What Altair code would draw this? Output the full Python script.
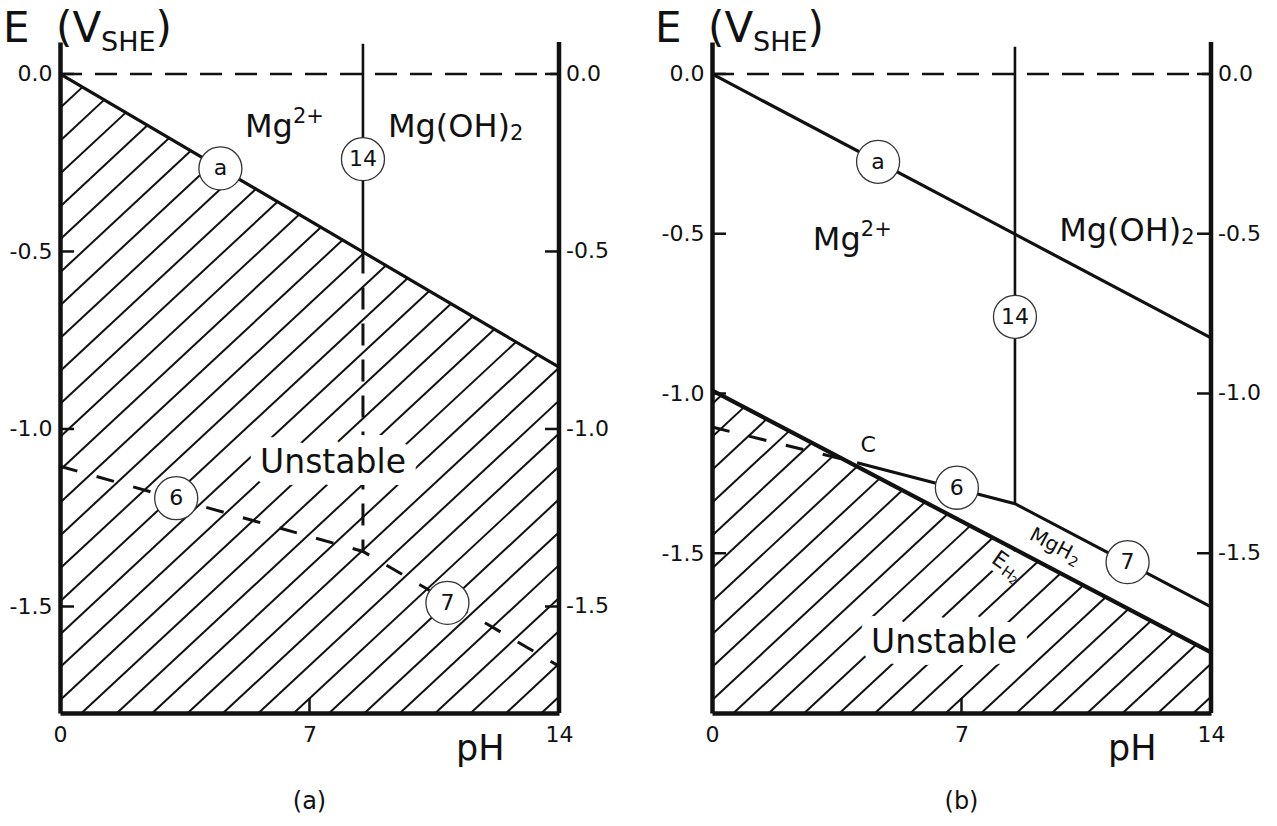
import pandas as pd
import altair as alt

FONT = "DejaVu Sans"
INK = "#111111"
W, H = 499, 671          # plot area of each panel, px

# ---- axes -------------------------------------------------------------
PH_TICKS = [0, 7, 14]
E_TICKS = [0.0, -0.5, -1.0, -1.5]
E_TICK_TEXT = ["0.0", "-0.5", "-1.0", "-1.5"]
E_DOMAIN_A = [-1.8, 0.09]
E_DOMAIN_B = [-2.0, 0.10]

# ---- equilibrium lines (pH, E vs SHE) ----------------------------------
# (a) hydrogen evolution line
LINE_A_PH = [0.0, 14.0]
LINE_A_E = [0.0, -0.826]
# (14) Mg2+ / Mg(OH)2, vertical at pH 8.5
PH_14 = 8.5
L14_TOP = 0.085
L14_KNEE = -0.50          # solid above, dashed below in panel (a)
L14_END = -1.345
# (6) Mg2+ / MgH2 and (7) MgH2 / Mg(OH)2
L67_PH = [0.0, 8.5, 14.0]
L67_E = [-1.105, -1.345, -1.668]
# point C: line 6 meets the E_H2 line
C_PH, C_E = 4.07, -1.217
# E_H2 line of panel (b)
EH2_PH = [0.0, 14.0]
EH2_E = [-0.99, -1.81]

# ---- circled line labels ----------------------------------------------
TAG_TEXT = ["a", "14", "6", "7"]
TAG_A_PH = [4.5, 8.5, 3.26, 10.87]
TAG_A_E = [-0.266, -0.24, -1.195, -1.49]
TAG_B_PH = [4.66, 8.5, 6.87, 11.66]
TAG_B_E = [-0.275, -0.76, -1.295, -1.528]

# ---- hatch pattern (pixel spacing / slope / phase) ----------------------
HATCH_GAP = 32.9
HATCH_SLOPE = 0.93
HATCH_PHASE = 66.0

TICK_FONT = 22

X_AXIS = alt.Axis(values=PH_TICKS, ticks=False, grid=False, domainWidth=4.5,
                  domainColor=INK, labelFontSize=TICK_FONT, labelColor=INK, labelPadding=11,
                  title=None, labelFlush=False, labelOverlap=False, labelFont=FONT)
E_AXIS = alt.Axis(orient="left", values=E_TICKS,
                  labelExpr="replace(format(datum.value, '.1f'), '\u2212', '-')",
                  ticks=False, grid=False, domainWidth=4.5, domainColor=INK,
                  labelFontSize=TICK_FONT, labelColor=INK, labelPadding=8, title=None,
                  labelFlush=False, labelOverlap=False, labelFont=FONT)


def x_enc():
    return alt.X("pH:Q", scale=alt.Scale(domain=[0, 14], nice=False, zero=False), axis=X_AXIS)


def y_enc(dom):
    return alt.Y("E:Q", scale=alt.Scale(domain=dom, nice=False, zero=False), axis=E_AXIS)


def seg_frame(segments):
    rows = []
    for s, (phs, es) in enumerate(segments):
        for i, (p, e) in enumerate(zip(phs, es)):
            rows.append({"seg": s, "i": i, "pH": p, "E": e})
    return pd.DataFrame(rows)


def hatch_frame(dom, b_ph, b_e):
    """Diagonal hatch segments filling the region under the boundary line."""
    lo, hi = dom
    sx = W / 14.0
    sy = H / (hi - lo)
    m = HATCH_SLOPE * sx / sy
    b1 = (b_e[1] - b_e[0]) / (b_ph[1] - b_ph[0])
    b0 = b_e[0]
    segs = []
    for k in range(-60, 60):
        c = hi - (HATCH_PHASE + k * HATCH_GAP) / sy
        start = max(0.0, (lo - c) / m)
        end = min(14.0, (b0 - c) / (m - b1))
        if end - start > 1e-6:
            segs.append(([start, end], [c + m * start, c + m * end]))
    return seg_frame(segs)


def lines(df, dom, width, dash=None):
    kw = dict(color=INK, strokeWidth=width, strokeCap="butt")
    if dash:
        kw["strokeDash"] = dash
    return alt.Chart(df).mark_line(**kw).encode(
        x=x_enc(), y=y_enc(dom), detail="seg:N", order="i:Q")


def text_at(dom, ph, e, txt, size, halo=0, **kw):
    df = pd.DataFrame({"pH": [ph], "E": [e], "t": [txt]})
    style = dict(font=FONT, fontSize=size, color=INK)
    if halo:
        style.update(color="white", stroke="white", strokeWidth=halo, strokeJoin="round")
    style.update(kw)
    return alt.Chart(df).mark_text(**style).encode(x=x_enc(), y=y_enc(dom), text="t:N")


def tags(dom, phs, es):
    df = pd.DataFrame({"pH": phs, "E": es, "t": TAG_TEXT})
    ring = alt.Chart(df).mark_point(
        shape="circle", filled=True, fill="white", stroke="#333333",
        strokeWidth=1.3, size=1850, opacity=1).encode(x=x_enc(), y=y_enc(dom))
    num = alt.Chart(df).mark_text(font=FONT, fontSize=22, color=INK, baseline="middle").encode(
        x=x_enc(), y=y_enc(dom), text="t:N")
    return [ring, num]


def plain_text(txt, size, x, y, **kw):
    return alt.Chart(pd.DataFrame({"t": [txt]})).mark_text(
        font=FONT, fontSize=size, color=INK, baseline="alphabetic", **kw).encode(
        x=alt.value(x), y=alt.value(y), text="t:N")


def frame_layers(dom):
    """Inward ticks, right-hand axis with labels, the E (V_SHE) title, pH label."""
    ticks_e = pd.DataFrame({"E": E_TICKS, "t": E_TICK_TEXT})
    left = alt.Chart(ticks_e).mark_rule(color=INK, strokeWidth=2.5).encode(
        y=y_enc(dom), x=alt.value(0), x2=alt.value(14))
    right = alt.Chart(ticks_e).mark_rule(color=INK, strokeWidth=2.5).encode(
        y=y_enc(dom), x=alt.value(W - 14), x2=alt.value(W))
    right_line = alt.Chart(pd.DataFrame({"t": [0]})).mark_rule(
        color=INK, strokeWidth=4.5).encode(
        x=alt.value(W), y=alt.value(0), y2=alt.value(H))
    right_txt = alt.Chart(ticks_e).mark_text(
        font=FONT, fontSize=TICK_FONT, color=INK, align="left", baseline="middle", dx=7).encode(
        y=y_enc(dom), x=alt.value(W), text="t:N")
    bottom = alt.Chart(pd.DataFrame({"pH": [7]})).mark_rule(color=INK, strokeWidth=2.5).encode(
        x=x_enc(), y=alt.value(H - 15), y2=alt.value(H))
    return [
        left, right, right_line, right_txt, bottom,
        plain_text("E", 42, -57, 0, align="left"),
        plain_text("(V", 42, -4, 0, align="left"),
        plain_text("SHE", 27, -4 + 45.1, 9, align="left"),
        plain_text(")", 42, -4 + 45.1 + 54.5, 0, align="left"),
        plain_text("pH", 35, 396, H + 47, align="left"),
    ]


def species_labels(dom, mg_ph, mg_e, oh_ph, oh_e):
    return [
        text_at(dom, mg_ph, mg_e, "Mg", 32, align="left"),
        text_at(dom, mg_ph, mg_e, "2+", 21, align="left", dx=48, dy=-10),
        text_at(dom, oh_ph, oh_e, "Mg(OH)", 32, align="left"),
        text_at(dom, oh_ph, oh_e, "2", 21, align="left", dx=122, dy=7),
    ]


# ---------------------------- panel (a) ----------------------------------
dA = E_DOMAIN_A
panel_a = alt.layer(
    lines(hatch_frame(dA, LINE_A_PH, LINE_A_E), dA, 2.0),
    lines(seg_frame([([0, 14], [0, 0])]), dA, 2.5, [22, 13]),
    lines(seg_frame([(LINE_A_PH, LINE_A_E)]), dA, 3.2),
    lines(seg_frame([([PH_14, PH_14], [L14_TOP, L14_KNEE])]), dA, 2.6),
    lines(seg_frame([([PH_14, PH_14], [L14_KNEE, L14_END])]), dA, 3.0, [22, 14]),
    lines(seg_frame([(L67_PH, L67_E)]), dA, 3.0, [18, 20]),
    text_at(dA, 7.66, -1.096, "Unstable", 33, halo=24),
    text_at(dA, 7.66, -1.096, "Unstable", 33),
    *tags(dA, TAG_A_PH, TAG_A_E),
    *species_labels(dA, 5.19, -0.15, 9.2, -0.15),
    *frame_layers(dA),
    plain_text("(a)", 24, W / 2, H + 96, align="center"),
).properties(width=W, height=H)

# ---------------------------- panel (b) ----------------------------------
dB = E_DOMAIN_B
panel_b = alt.layer(
    lines(hatch_frame(dB, EH2_PH, EH2_E), dB, 2.0),
    text_at(dB, 6.51, -1.78, "Unstable", 33, halo=24),
    text_at(dB, 8.08, -1.521, "E", 22, halo=12, angle=35, baseline="middle"),
    text_at(dB, 8.08, -1.521, "E", 22, angle=35, baseline="middle"),
    text_at(dB, 8.08, -1.521, "H", 15, angle=35, baseline="middle", align="left", dx=8, dy=6),
    text_at(dB, 8.08, -1.521, "2", 11, angle=35, baseline="middle", align="left", dx=19, dy=10),
    lines(seg_frame([([0, 14], [0, 0])]), dB, 2.5, [22, 13]),
    lines(seg_frame([(LINE_A_PH, LINE_A_E)]), dB, 3.2),
    lines(seg_frame([([PH_14, PH_14], [L14_TOP, L14_END])]), dB, 2.6),
    lines(seg_frame([([L67_PH[0], C_PH], [L67_E[0], C_E])]), dB, 3.0, [18, 20]),
    lines(seg_frame([([C_PH, L67_PH[1], L67_PH[2]], [C_E, L67_E[1], L67_E[2]])]), dB, 3.0),
    lines(seg_frame([(EH2_PH, EH2_E)]), dB, 4.2),
    text_at(dB, 6.51, -1.78, "Unstable", 33),
    text_at(dB, 4.38, -1.161, "C", 22, baseline="middle"),
    text_at(dB, 9.51, -1.471, "MgH", 20, angle=28, baseline="middle"),
    text_at(dB, 9.51, -1.471, "2", 14, angle=28, baseline="middle", align="left", dx=23.5, dy=6),
    *tags(dB, TAG_B_PH, TAG_B_E),
    *species_labels(dB, 2.83, -0.52, 9.74, -0.49),
    *frame_layers(dB),
    plain_text("(b)", 24, W / 2, H + 96, align="center"),
).properties(width=W, height=H)

chart = alt.hconcat(panel_a, panel_b, spacing=153, bounds="flush").properties(
    padding={"left": 3, "top": 8, "right": 5, "bottom": 5}
).configure(font=FONT).configure_view(stroke=None)

chart.save("out.html", embed_options={"renderer": "svg", "actions": False})
